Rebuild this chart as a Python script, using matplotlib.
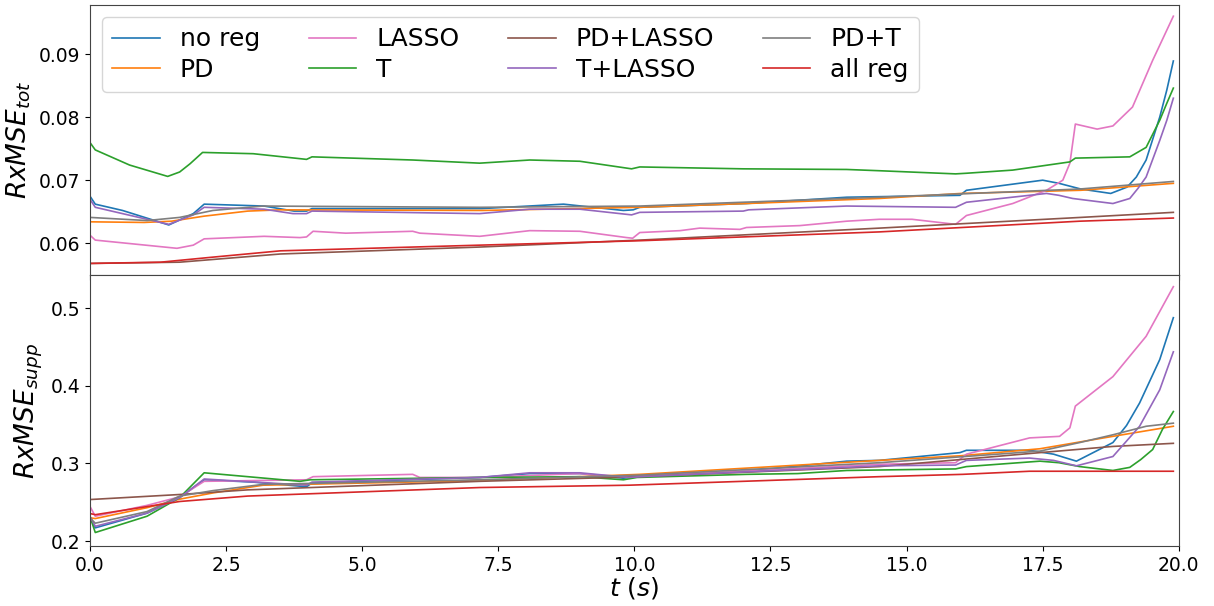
import numpy as np
import matplotlib
matplotlib.use("Agg")
import matplotlib.pyplot as plt

labels = ["no reg", "PD", "LASSO", "T", "PD+LASSO", "T+LASSO", "PD+T", "all reg"]
colors = ["tab:blue", "tab:orange", "tab:pink", "tab:green",
          "tab:brown", "tab:purple", "tab:gray", "tab:red"]

# (t, value) pairs, RxMSE_tot
noreg_tot = [(0, 0.0675), (0.1, 0.0662), (0.6, 0.0652), (1.45, 0.0629), (1.9, 0.0647), (2.1, 0.0662),
             (3.2, 0.0659), (3.75, 0.0651), (3.98, 0.0651), (4.08, 0.0655), (7.2, 0.0655), (8.7, 0.0662),
             (9.8, 0.0652), (9.98, 0.0653), (10.1, 0.0657), (12.06, 0.0663), (13.9, 0.0673), (15.98, 0.0676),
             (16.1, 0.0684), (17.5, 0.0700), (17.8, 0.0695), (18.2, 0.0686), (18.75, 0.0679), (19.05, 0.0689),
             (19.22, 0.0705), (19.4, 0.0732), (19.65, 0.0800), (19.78, 0.0843), (19.9, 0.0889)]
pd_tot = [(0, 0.0634), (1.0, 0.0633), (1.5, 0.0635), (2.1, 0.0643), (2.9, 0.0651), (3.5, 0.0653),
          (7.2, 0.0652), (10.1, 0.0657), (12.06, 0.0663), (14.5, 0.0671), (16.0, 0.0679), (18.2, 0.0684),
          (19.9, 0.0695)]
lasso_tot = [(0, 0.0613), (0.1, 0.0605), (1.6, 0.0592), (1.9, 0.0597), (2.1, 0.0607), (3.2, 0.0611),
             (3.86, 0.0609), (3.98, 0.0610), (4.1, 0.0619), (4.7, 0.0616), (5.93, 0.0619), (6.06, 0.0616),
             (7.16, 0.0611), (8.08, 0.0620), (9.0, 0.0619), (9.86, 0.0609), (9.97, 0.0608), (10.1, 0.0617),
             (10.84, 0.0620), (11.2, 0.0624), (11.94, 0.0622), (12.06, 0.0625), (13.04, 0.0628),
             (13.9, 0.0635), (14.5, 0.0638), (15.1, 0.0638), (15.9, 0.0630), (16.1, 0.0644), (16.95, 0.0663),
             (17.57, 0.0684), (17.87, 0.0700), (18.0, 0.0727), (18.1, 0.0789), (18.5, 0.0781),
             (18.79, 0.0786), (19.15, 0.0816), (19.34, 0.0854), (19.52, 0.0890), (19.9, 0.0960)]
t_tot = [(0, 0.0760), (0.1, 0.0748), (0.73, 0.0724), (1.43, 0.0706), (1.65, 0.0713), (1.84, 0.0726),
         (2.07, 0.0744), (3.0, 0.0742), (3.98, 0.0733), (4.08, 0.0737), (5.93, 0.0732), (7.16, 0.0727),
         (8.08, 0.0732), (9.0, 0.0730), (9.95, 0.0718), (10.1, 0.0721), (12.0, 0.0718), (13.9, 0.0717),
         (14.5, 0.0715), (15.9, 0.0710), (16.1, 0.0711), (16.95, 0.0716), (18.0, 0.0729), (18.1, 0.0735),
         (19.1, 0.0737), (19.4, 0.0752), (19.65, 0.0795), (19.78, 0.0822), (19.9, 0.0846)]
pdlasso_tot = [(0, 0.0568), (1.65, 0.0570), (3.5, 0.0583), (7.16, 0.0594), (10.1, 0.0605),
               (14.5, 0.0624), (18.2, 0.0641), (19.9, 0.0649)]
tlasso_tot = [(0, 0.0670), (0.1, 0.0657), (1.45, 0.0630), (1.9, 0.0645), (2.1, 0.0657), (3.2, 0.0654),
              (3.73, 0.0647), (3.98, 0.0647), (4.08, 0.0651), (7.16, 0.0647), (8.08, 0.0654), (9.0, 0.0654),
              (9.95, 0.0645), (10.1, 0.0649), (12.0, 0.0651), (12.1, 0.0653), (13.9, 0.0659), (15.9, 0.0657),
              (16.1, 0.0665), (17.57, 0.0679), (17.8, 0.0676), (18.05, 0.0671), (18.79, 0.0663),
              (19.1, 0.0671), (19.25, 0.0687), (19.4, 0.0705), (19.65, 0.0763), (19.78, 0.0795), (19.9, 0.0830)]
pdt_tot = [(0, 0.0641), (1.05, 0.0636), (1.65, 0.0641), (2.26, 0.0652), (3.18, 0.0659), (7.16, 0.0657),
           (10.1, 0.0659), (14.5, 0.0673), (18.18, 0.0686), (19.9, 0.0698)]
allreg_tot = [(0, 0.0568), (1.3, 0.0570), (2.26, 0.0578), (3.5, 0.0588), (7.16, 0.0597), (10.1, 0.0604),
              (14.5, 0.0618), (18.18, 0.0635), (19.9, 0.0640)]

# RxMSE_supp
noreg_supp = [(0, 0.232), (0.1, 0.217), (1.05, 0.236), (1.65, 0.256), (2.1, 0.279), (3.0, 0.276),
              (3.98, 0.270), (4.08, 0.275), (7.16, 0.282), (8.08, 0.287), (9.0, 0.287), (9.8, 0.281),
              (10.1, 0.284), (12.06, 0.290), (13.9, 0.303), (14.5, 0.304), (15.98, 0.314), (16.1, 0.317),
              (17.26, 0.317), (17.7, 0.312), (18.12, 0.303), (18.79, 0.327), (19.04, 0.349), (19.28, 0.378),
              (19.65, 0.434), (19.9, 0.488)]
pd_supp = [(0, 0.230), (0.1, 0.229), (1.05, 0.243), (1.65, 0.254), (2.26, 0.262), (3.18, 0.272),
           (7.16, 0.278), (10.1, 0.286), (14.5, 0.304), (16.0, 0.310), (17.45, 0.319), (18.79, 0.335),
           (19.9, 0.348)]
lasso_supp = [(0, 0.245), (0.1, 0.232), (1.05, 0.246), (1.65, 0.257), (2.1, 0.277), (3.98, 0.279),
              (4.1, 0.283), (5.93, 0.286), (6.06, 0.282), (7.16, 0.282), (9.0, 0.287), (9.9, 0.282),
              (10.1, 0.284), (12.0, 0.290), (14.5, 0.299), (15.9, 0.301), (16.1, 0.312), (17.26, 0.333),
              (17.81, 0.335), (18.0, 0.346), (18.1, 0.374), (18.79, 0.412), (19.4, 0.464), (19.9, 0.528)]
t_supp = [(0, 0.232), (0.1, 0.211), (1.05, 0.232), (1.65, 0.256), (2.1, 0.288), (3.86, 0.277),
          (4.05, 0.279), (7.16, 0.282), (9.0, 0.283), (9.8, 0.279), (10.05, 0.282), (12.06, 0.286),
          (13.0, 0.287), (13.9, 0.291), (15.9, 0.293), (16.1, 0.296), (17.45, 0.303), (17.8, 0.301),
          (18.18, 0.296), (18.79, 0.291), (19.1, 0.295), (19.3, 0.305), (19.52, 0.318), (19.7, 0.344),
          (19.9, 0.367)]
pdlasso_supp = [(0, 0.2535), (1.65, 0.260), (2.9, 0.266), (7.16, 0.277), (10.1, 0.283), (14.5, 0.296),
                (17.45, 0.314), (18.79, 0.322), (19.9, 0.326)]
tlasso_supp = [(0, 0.232), (0.1, 0.219), (1.05, 0.236), (1.65, 0.256), (2.1, 0.280), (3.98, 0.272),
               (4.08, 0.276), (7.16, 0.282), (8.08, 0.288), (9.0, 0.288), (9.9, 0.282), (10.1, 0.283),
               (14.5, 0.297), (15.9, 0.298), (16.1, 0.304), (17.26, 0.307), (17.7, 0.304), (18.12, 0.297),
               (18.79, 0.309), (19.28, 0.348), (19.65, 0.395), (19.9, 0.444)]
pdt_supp = [(0, 0.230), (0.1, 0.223), (1.05, 0.238), (1.65, 0.258), (2.26, 0.265), (3.18, 0.273),
            (7.16, 0.279), (10.1, 0.285), (14.5, 0.301), (17.45, 0.316), (18.18, 0.327), (18.79, 0.337),
            (19.4, 0.348), (19.9, 0.352)]
allreg_supp = [(0, 0.2355), (0.1, 0.234), (1.65, 0.251), (2.9, 0.258), (7.16, 0.269), (9.9, 0.272),
               (14.5, 0.283), (16.03, 0.286), (17.26, 0.290), (19.9, 0.290)]

tot_series = [noreg_tot, pd_tot, lasso_tot, t_tot, pdlasso_tot, tlasso_tot, pdt_tot, allreg_tot]
supp_series = [noreg_supp, pd_supp, lasso_supp, t_supp, pdlasso_supp, tlasso_supp, pdt_supp, allreg_supp]

fig, (ax1, ax2) = plt.subplots(2, 1, sharex=True, figsize=(12.14, 6.06), dpi=100)
fig.subplots_adjust(left=0.074, right=0.971, top=0.992, bottom=0.099, hspace=0)

for pts, lab, col in zip(tot_series, labels, colors):
    arr = np.array(pts)
    ax1.plot(arr[:, 0], arr[:, 1], color=col, label=lab, lw=1.2)
for pts, lab, col in zip(supp_series, labels, colors):
    arr = np.array(pts)
    ax2.plot(arr[:, 0], arr[:, 1], color=col, label=lab, lw=1.2)

ax1.set_ylim(0.0549, 0.0978)
ax2.set_ylim(0.1936, 0.5425)
ax2.set_xlim(0, 20)
ax1.set_yticks([0.06, 0.07, 0.08, 0.09])
ax2.set_yticks([0.2, 0.3, 0.4, 0.5])

ax1.set_ylabel(r"$RxMSE_{tot}$", fontsize=19)
ax2.set_ylabel(r"$RxMSE_{supp}$", fontsize=19)
ax2.set_xlabel(r"$t\ (s)$", fontsize=18, labelpad=0)

for ax in (ax1, ax2):
    ax.tick_params(labelsize=13.5)
    for sp in ax.spines.values():
        sp.set_color("#444444")

ax1.legend(ncol=4, loc="upper left", fontsize=18, columnspacing=1.95,
           handlelength=1.9, borderaxespad=0.5, labelspacing=0.25)

fig.savefig("out.png", dpi=100)
